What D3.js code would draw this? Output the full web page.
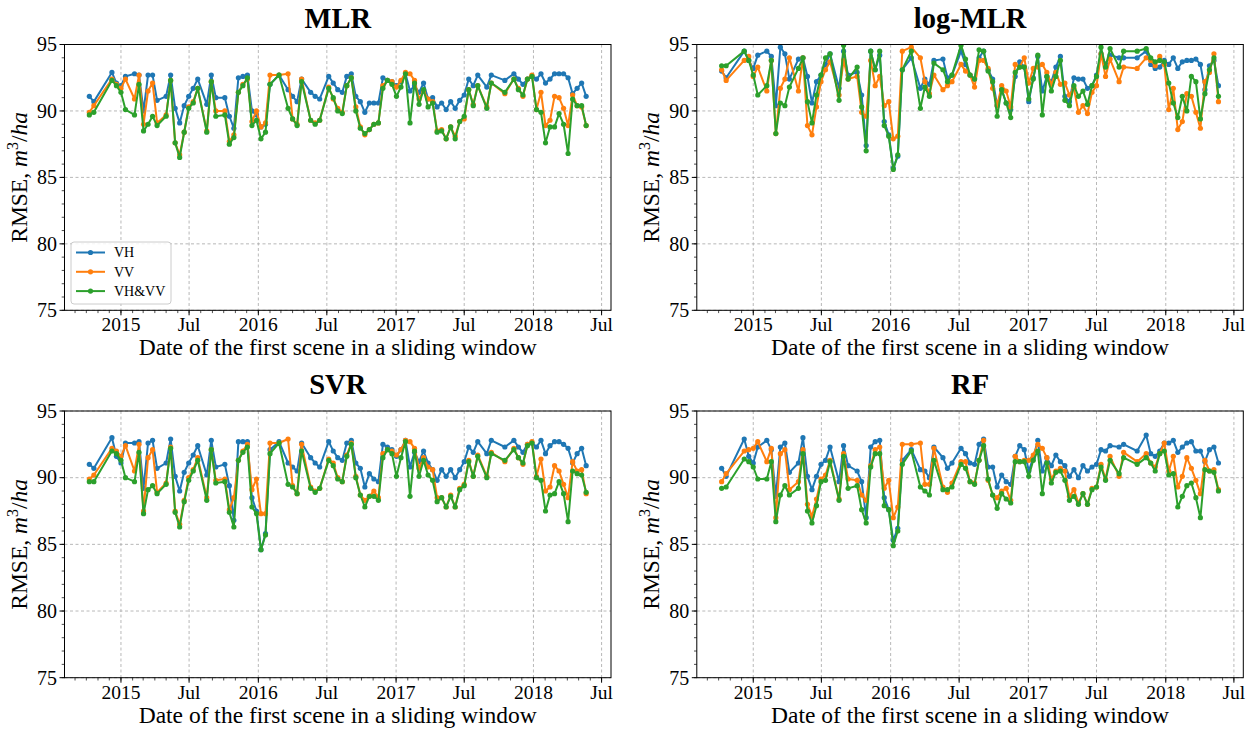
<!DOCTYPE html>
<html><head><meta charset="utf-8">
<script src="https://cdn.jsdelivr.net/npm/d3@7"></script>
<style>
body{margin:0;background:#fff;}
text{font-family:"Liberation Serif","Times New Roman",serif;fill:#000;}
</style></head>
<body><svg id="c" width="1252" height="729"></svg>
<script>
// ---- DATA ----
const dates = ["2014-10-09","2014-10-21","2014-12-08","2014-12-20","2015-01-01","2015-01-13","2015-02-06","2015-02-18","2015-03-02","2015-03-14","2015-03-26","2015-04-07","2015-05-01","2015-05-13","2015-05-25","2015-06-06","2015-06-18","2015-06-30","2015-07-12","2015-07-24","2015-08-17","2015-08-29","2015-09-10","2015-10-04","2015-10-16","2015-10-28","2015-11-09","2015-11-21","2015-12-03","2015-12-15","2015-12-27","2016-01-08","2016-01-20","2016-02-01","2016-02-25","2016-03-20","2016-04-01","2016-04-13","2016-04-25","2016-05-19","2016-05-31","2016-06-12","2016-07-06","2016-07-18","2016-07-30","2016-08-11","2016-08-23","2016-09-04","2016-09-16","2016-09-28","2016-10-10","2016-10-22","2016-11-03","2016-11-15","2016-11-27","2016-12-09","2016-12-21","2017-01-02","2017-01-14","2017-01-26","2017-02-07","2017-02-19","2017-03-03","2017-03-15","2017-03-27","2017-04-08","2017-04-20","2017-05-02","2017-05-14","2017-05-26","2017-06-07","2017-06-19","2017-07-01","2017-07-13","2017-07-25","2017-08-06","2017-08-30","2017-09-11","2017-10-17","2017-11-10","2017-11-22","2017-12-04","2017-12-16","2017-12-28","2018-01-09","2018-01-21","2018-02-02","2018-02-14","2018-02-26","2018-03-10","2018-03-22","2018-04-03","2018-04-15","2018-04-27","2018-05-09","2018-05-21"];

const seriesNames = ["VH","VV","VH&VV"];
const panelTitles = ["MLR","log-MLR","SVR","RF"];
const yTickValues = [75,80,85,90,95];
const xTickLabels = ["2015","Jul","2016","Jul","2017","Jul","2018","Jul"];
const xTickDates = ["2015-01-01","2015-07-01","2016-01-01","2016-07-01","2017-01-01","2017-07-01","2018-01-01","2018-07-01"];

const mlrVH = [91.1,90.7,92.9,92.1,91.9,92.6,92.8,92.7,90.0,92.7,92.7,90.8,91.1,92.7,90.2,89.1,90.4,91.1,91.7,92.4,90.5,92.7,91.0,91.0,89.6,88.7,92.5,92.6,92.7,90.0,89.7,88.8,89.0,92.0,92.7,91.6,91.1,90.7,92.4,91.4,91.1,90.9,92.6,92.1,91.6,91.4,92.6,92.8,91.1,90.7,89.9,90.6,90.6,90.6,92.5,92.3,92.2,91.9,92.2,92.8,91.5,91.9,91.4,92.1,90.9,91.0,90.3,90.6,90.1,90.7,90.2,90.8,91.2,92.4,91.9,92.7,91.8,92.7,92.3,92.8,92.4,92.0,92.4,92.6,92.4,92.8,92.1,92.4,92.8,92.8,92.8,92.5,91.3,91.7,92.1,91.1];
const mlrVV = [89.9,90.4,92.4,92.0,91.7,92.4,90.9,92.7,89.0,91.5,92.1,89.1,89.7,92.3,87.6,86.7,88.4,90.3,90.7,91.7,88.5,92.2,90.0,90.0,87.7,88.2,91.4,92.0,92.4,89.2,90.0,88.8,89.1,92.7,92.7,92.8,89.4,89.0,92.4,89.3,89.1,89.3,91.8,90.9,90.2,89.9,91.9,92.5,90.3,88.8,88.2,88.6,89.0,89.1,91.9,92.3,92.2,91.8,92.3,92.9,92.8,92.3,90.9,91.5,90.9,90.7,88.5,88.6,87.9,88.8,88.1,89.2,89.4,91.6,90.5,91.9,90.3,92.1,91.3,92.4,91.7,91.1,92.4,92.7,90.1,91.4,88.9,89.3,91.1,91.0,90.2,88.9,91.2,90.4,90.3,88.9];
const mlrVHVV = [89.7,89.9,92.3,91.9,91.4,90.1,89.7,92.0,88.5,89.0,89.6,88.9,89.6,92.3,87.6,86.5,88.4,90.2,90.6,91.7,88.4,92.2,89.6,89.7,87.5,88.0,91.4,91.9,92.5,88.9,89.3,87.9,88.4,92.0,92.7,90.2,89.4,88.9,92.2,89.3,89.0,89.3,91.7,91.0,90.0,89.8,91.9,92.5,90.0,88.7,88.3,88.6,89.0,89.1,91.7,92.3,92.0,91.1,91.8,92.8,89.1,92.1,90.5,91.6,90.3,90.6,88.4,88.5,87.9,88.8,87.9,89.2,89.6,91.6,90.4,91.9,90.2,92.1,91.4,92.4,91.6,91.2,92.4,92.6,90.1,89.9,87.6,88.8,88.8,89.8,89.0,86.8,90.9,90.4,90.4,88.9];

const logVH = [93.0,92.5,94.5,93.8,93.2,94.2,94.5,94.1,90.4,94.8,94.3,92.4,93.9,94.0,92.6,90.6,92.2,92.7,93.5,94.3,91.7,94.5,92.7,92.9,91.2,87.4,94.5,93.1,94.2,89.2,88.2,85.7,86.6,93.1,94.0,91.7,92.4,92.0,93.8,93.9,92.5,92.7,94.5,93.5,92.7,92.4,94.0,94.5,93.1,92.4,90.4,91.6,90.6,90.1,92.6,93.7,93.3,90.7,92.5,94.1,91.5,92.6,92.2,93.3,94.1,91.1,90.7,92.5,92.4,92.4,91.7,91.9,92.7,94.3,93.5,94.2,94.0,94.0,94.0,94.5,93.5,93.2,93.3,93.8,93.5,94.0,93.2,93.7,93.8,93.8,93.9,93.5,91.6,93.4,93.8,91.9];
const logVV = [93.1,92.3,93.8,94.1,92.6,93.3,91.5,93.8,88.3,91.7,92.4,94.0,91.5,94.0,88.9,88.2,90.3,92.2,93.1,93.7,91.2,93.8,92.4,92.6,89.9,89.6,93.8,91.9,92.6,90.4,90.7,87.9,88.1,94.5,94.8,94.0,92.2,91.3,92.7,91.6,91.9,92.2,93.5,93.0,92.7,91.8,93.8,93.8,93.2,91.7,90.4,91.9,91.5,90.3,93.5,93.3,94.0,92.1,93.2,93.3,93.5,92.9,92.0,92.9,92.0,92.1,91.2,91.7,89.9,90.4,89.8,91.4,91.9,94.3,92.6,93.9,92.2,93.3,93.2,94.0,93.8,93.4,94.1,93.5,90.1,91.7,88.6,89.2,91.3,91.1,89.9,88.7,92.2,92.9,94.3,90.7];
const logVHVV = [93.4,93.4,94.5,93.8,92.7,91.2,91.9,93.8,88.3,90.6,90.4,91.8,93.2,94.0,90.7,89.1,91.2,92.7,94.0,94.3,90.8,94.95,92.4,93.3,90.3,87.0,94.5,93.1,94.5,88.9,88.1,85.6,86.7,93.1,94.5,90.2,91.8,91.1,93.6,93.1,92.2,92.7,94.95,93.9,92.7,92.4,94.6,94.5,93.0,92.2,89.6,91.6,90.6,89.5,92.9,93.3,93.3,90.9,92.4,94.2,89.7,92.6,91.5,92.6,93.8,90.8,90.4,91.9,91.1,91.5,90.5,91.9,92.6,94.8,93.3,94.7,93.3,94.5,94.5,94.7,94.0,93.7,93.8,93.7,92.1,90.6,89.5,91.1,90.0,92.6,92.2,89.4,91.3,93.1,94.0,91.1];

const svrVH = [91.0,90.7,93.0,91.6,91.1,92.6,92.6,92.7,89.2,92.6,92.8,90.7,91.1,92.9,90.1,89.0,90.4,91.1,91.7,92.4,90.2,92.8,90.8,91.0,89.4,86.8,92.7,92.7,92.7,88.5,87.5,84.6,85.8,92.1,92.7,91.1,90.8,90.5,92.6,91.5,91.1,90.8,92.7,92.0,91.5,91.3,92.6,92.8,91.1,90.7,89.3,90.3,89.9,89.7,92.5,92.3,92.1,91.6,92.1,92.8,90.8,91.9,91.2,92.0,91.1,90.6,89.8,90.6,90.1,90.6,90.0,90.6,91.2,92.3,91.9,92.7,91.8,92.8,92.3,92.8,92.3,91.9,92.5,92.6,92.3,92.8,91.8,92.4,92.7,92.7,92.5,92.2,91.1,91.8,92.2,90.9];
const svrVV = [89.9,90.2,92.2,92.0,91.6,92.4,90.5,92.5,87.5,91.5,92.1,88.9,89.6,92.3,87.5,86.5,88.3,90.0,90.6,91.5,88.5,92.1,89.8,89.9,87.6,88.5,91.3,92.0,92.5,89.1,89.9,87.3,87.3,92.6,92.6,92.9,89.4,88.8,92.5,89.3,89.0,89.2,91.4,91.1,90.0,89.7,91.7,92.6,90.1,88.7,88.3,88.6,89.0,88.5,91.8,92.1,92.0,91.7,92.1,92.8,92.7,92.2,90.7,91.5,90.8,90.6,88.5,88.5,87.8,88.7,87.8,89.2,89.5,91.3,90.1,91.7,90.1,91.9,91.2,92.2,91.5,91.0,92.5,92.7,90.1,91.4,89.0,89.3,90.9,90.5,89.5,88.5,91.2,90.5,90.6,88.8];
const svrVHVV = [89.7,89.7,92.0,91.8,91.3,90.0,89.7,91.9,87.3,89.1,89.4,88.8,89.5,92.2,87.4,86.3,88.2,89.8,90.5,91.3,88.3,92.1,89.6,89.7,87.4,86.3,91.3,91.9,92.3,87.8,87.3,84.6,85.7,91.8,92.6,89.5,89.3,88.8,92.0,89.2,88.9,89.2,91.3,90.9,89.9,89.7,91.6,92.5,90.0,88.7,87.8,88.6,88.6,88.3,91.5,92.1,91.8,90.1,91.5,92.7,88.6,92.0,90.1,91.3,90.2,89.8,88.2,88.5,87.8,88.6,87.8,89.1,89.4,91.2,90.1,91.6,90.0,91.8,91.3,92.1,91.5,91.1,92.4,92.6,90.0,89.8,87.5,88.7,88.8,89.7,88.8,86.7,90.5,90.3,90.2,88.9];

const rfVH = [90.7,90.1,92.9,91.6,91.1,92.3,92.8,92.1,88.6,92.3,92.6,90.4,91.1,93.0,90.1,89.1,90.1,91.0,91.3,92.3,89.7,92.4,90.9,90.5,89.7,87.0,92.3,92.7,92.8,88.5,87.6,85.3,86.2,91.3,92.1,90.6,90.5,90.0,92.3,91.5,90.7,91.1,92.2,91.8,91.1,91.0,92.5,92.9,90.8,90.8,89.3,90.2,89.7,89.5,91.6,92.4,92.1,90.5,91.5,92.8,90.5,91.5,90.9,91.7,91.2,90.9,90.1,90.6,90.0,90.9,90.5,90.8,91.0,92.1,92.0,92.4,92.3,92.5,92.0,93.2,91.8,91.6,92.0,92.6,92.6,92.8,91.9,92.3,92.6,92.7,92.0,92.0,91.2,92.1,92.3,91.1];
const rfVV = [89.7,90.3,92.0,92.1,92.2,92.7,91.2,92.2,87.0,91.8,92.1,89.1,89.7,92.1,88.0,87.1,88.4,89.9,90.2,91.3,88.4,91.8,89.9,89.8,88.7,88.3,90.9,92.1,92.3,89.2,89.8,87.0,87.8,92.5,92.5,92.6,89.5,89.5,92.2,89.3,88.9,89.6,91.2,91.2,89.7,89.6,91.3,92.8,89.8,88.7,88.5,89.0,89.2,88.3,91.6,91.2,91.3,91.3,91.7,92.5,92.2,91.5,89.9,90.5,90.7,90.5,88.6,89.1,88.1,88.8,88.0,89.2,89.3,91.0,89.9,91.6,90.1,91.9,91.2,91.8,91.1,90.8,91.8,92.6,90.5,91.6,89.3,90.1,91.5,90.7,89.8,88.8,91.3,90.5,90.6,89.1];
const rfVHVV = [89.2,89.3,91.4,91.2,90.8,89.9,89.9,91.2,86.7,88.7,89.4,88.7,89.2,91.8,87.5,86.6,87.9,89.7,89.8,91.2,88.3,91.6,89.2,89.4,87.6,86.6,90.8,91.8,91.8,87.9,87.6,84.9,86.0,91.0,92.0,89.3,89.0,88.7,91.3,89.1,89.1,89.3,91.0,90.7,89.7,89.5,91.3,92.4,89.9,88.7,87.7,88.8,88.4,88.1,91.2,91.2,91.2,90.1,91.3,92.0,88.8,91.1,89.6,90.4,90.5,89.8,88.3,88.6,88.0,88.8,88.0,89.1,89.3,90.8,89.8,91.3,90.3,91.5,91.0,91.5,91.1,90.5,91.8,92.0,90.2,90.3,87.8,88.6,89.4,89.6,88.5,87.0,90.6,90.5,90.4,89.0];

const panelSeries = [
  [mlrVH, mlrVV, mlrVHVV],
  [logVH, logVV, logVHVV],
  [svrVH, svrVV, svrVHVV],
  [rfVH, rfVV, rfVHVV]
];
// ---- END DATA ----

const colors = ["#1f77b4","#ff7f0e","#2ca02c"];
const parse = d3.timeParse("%Y-%m-%d");
const dateObjs = dates.map(parse);

panelSeries.forEach((ps,pi)=>ps.forEach((s,si)=>{
  if(s.length!==dates.length) throw new Error("length mismatch panel "+pi+" series "+si+": "+s.length+" vs "+dates.length);
}));

const svg = d3.select("#c");
const W = 546.5;
const layout = [
  {x0:64.5, y0:44.5, h:265.8},
  {x0:696.8, y0:44.5, h:265.8},
  {x0:64.5, y0:411, h:266.7},
  {x0:696.8, y0:411, h:266.7}
];
const xDomain = [parse("2014-08-04"), parse("2018-07-26")];

layout.forEach((L,pi)=>{
  const x = d3.scaleTime().domain(xDomain).range([L.x0, L.x0+W]);
  const y = d3.scaleLinear().domain([75,95]).range([L.y0+L.h, L.y0]);
  const g = svg.append("g");

  const clipId = "clip"+pi;
  svg.append("clipPath").attr("id",clipId).append("rect")
    .attr("x",L.x0).attr("y",L.y0).attr("width",W).attr("height",L.h);

  // grid
  const gx = xTickDates.map(parse);
  g.selectAll(".gx").data(gx).enter().append("line")
    .attr("x1",d=>x(d)).attr("x2",d=>x(d)).attr("y1",L.y0).attr("y2",L.y0+L.h)
    .attr("stroke","#b0b0b0").attr("stroke-width",0.9).attr("stroke-dasharray","3,2.5");
  g.selectAll(".gy").data(yTickValues).enter().append("line")
    .attr("x1",L.x0).attr("x2",L.x0+W).attr("y1",d=>y(d)).attr("y2",d=>y(d))
    .attr("stroke","#b0b0b0").attr("stroke-width",0.9).attr("stroke-dasharray","3,2.5");

  // series
  const line = d3.line().x((d,i)=>x(dateObjs[i])).y(d=>y(d));
  const sg = g.append("g").attr("clip-path","url(#"+clipId+")");
  panelSeries[pi].forEach((vals,si)=>{
    sg.append("path").datum(vals).attr("d",line)
      .attr("fill","none").attr("stroke",colors[si]).attr("stroke-width",2).attr("stroke-linejoin","round");
    sg.selectAll(".m"+si).data(vals).enter().append("circle")
      .attr("cx",(d,i)=>x(dateObjs[i])).attr("cy",d=>y(d)).attr("r",2.6).attr("fill",colors[si]);
  });

  // spines
  g.append("rect").attr("x",L.x0).attr("y",L.y0).attr("width",W).attr("height",L.h)
    .attr("fill","none").attr("stroke","#000").attr("stroke-width",1);

  // y ticks
  const yMinor = d3.range(75,96,1);
  g.selectAll(".ymn").data(yMinor).enter().append("line")
    .attr("x1",L.x0-2.8).attr("x2",L.x0).attr("y1",d=>y(d)).attr("y2",d=>y(d))
    .attr("stroke","#000").attr("stroke-width",0.7);
  g.selectAll(".ymj").data(yTickValues).enter().append("line")
    .attr("x1",L.x0-5).attr("x2",L.x0).attr("y1",d=>y(d)).attr("y2",d=>y(d))
    .attr("stroke","#000").attr("stroke-width",1);
  g.selectAll(".ytl").data(yTickValues).enter().append("text")
    .attr("x",L.x0-7.5).attr("y",d=>y(d)).attr("dy","0.34em").attr("text-anchor","end")
    .style("font-size","20px").text(d=>d);

  // x ticks
  const xMinor = d3.timeMonth.range(parse("2014-09-01"), parse("2018-08-01"));
  g.selectAll(".xmn").data(xMinor).enter().append("line")
    .attr("x1",d=>x(d)).attr("x2",d=>x(d)).attr("y1",L.y0+L.h).attr("y2",L.y0+L.h+2.8)
    .attr("stroke","#000").attr("stroke-width",0.7);
  g.selectAll(".xmj").data(gx).enter().append("line")
    .attr("x1",d=>x(d)).attr("x2",d=>x(d)).attr("y1",L.y0+L.h).attr("y2",L.y0+L.h+5)
    .attr("stroke","#000").attr("stroke-width",1);
  g.selectAll(".xtl").data(gx).enter().append("text")
    .attr("x",d=>x(d)).attr("y",L.y0+L.h+21).attr("text-anchor","middle")
    .style("font-size","19.5px").text((d,i)=>xTickLabels[i]);

  // x label
  g.append("text").attr("x",L.x0+W/2).attr("y",L.y0+L.h+45).attr("text-anchor","middle")
    .style("font-size","23.5px").text("Date of the first scene in a sliding window");

  // y label
  const yl = g.append("text").attr("transform","translate("+(L.x0-38)+","+(L.y0+L.h/2)+") rotate(-90)")
    .attr("text-anchor","middle").style("font-size","23.5px");
  yl.append("tspan").text("RMSE, ");
  yl.append("tspan").style("font-style","italic").text("m");
  yl.append("tspan").attr("dy","-9").style("font-size","16px").text("3");
  yl.append("tspan").attr("dy","9").text("/");
  yl.append("tspan").style("font-style","italic").text("ha");

  // title
  g.append("text").attr("x",L.x0+W/2).attr("y",L.y0-17).attr("text-anchor","middle")
    .style("font-size","28.5px").style("font-weight","bold").text(panelTitles[pi]);

  // legend only in first panel
  if(pi===0){
    const lg = g.append("g");
    lg.append("rect").attr("x",71).attr("y",242).attr("width",100).attr("height",62).attr("rx",3)
      .attr("fill","#fff").attr("fill-opacity",0.85).attr("stroke","#ccc").attr("stroke-width",1);
    seriesNames.forEach((n,i)=>{
      const yy = 252.5 + i*19.3;
      lg.append("line").attr("x1",76).attr("x2",105).attr("y1",yy).attr("y2",yy)
        .attr("stroke",colors[i]).attr("stroke-width",2);
      lg.append("circle").attr("cx",90.5).attr("cy",yy).attr("r",2.6).attr("fill",colors[i]);
      lg.append("text").attr("x",114).attr("y",yy).attr("dy","0.35em").style("font-size","14px").text(n);
    });
  }
});
</script></body></html>
